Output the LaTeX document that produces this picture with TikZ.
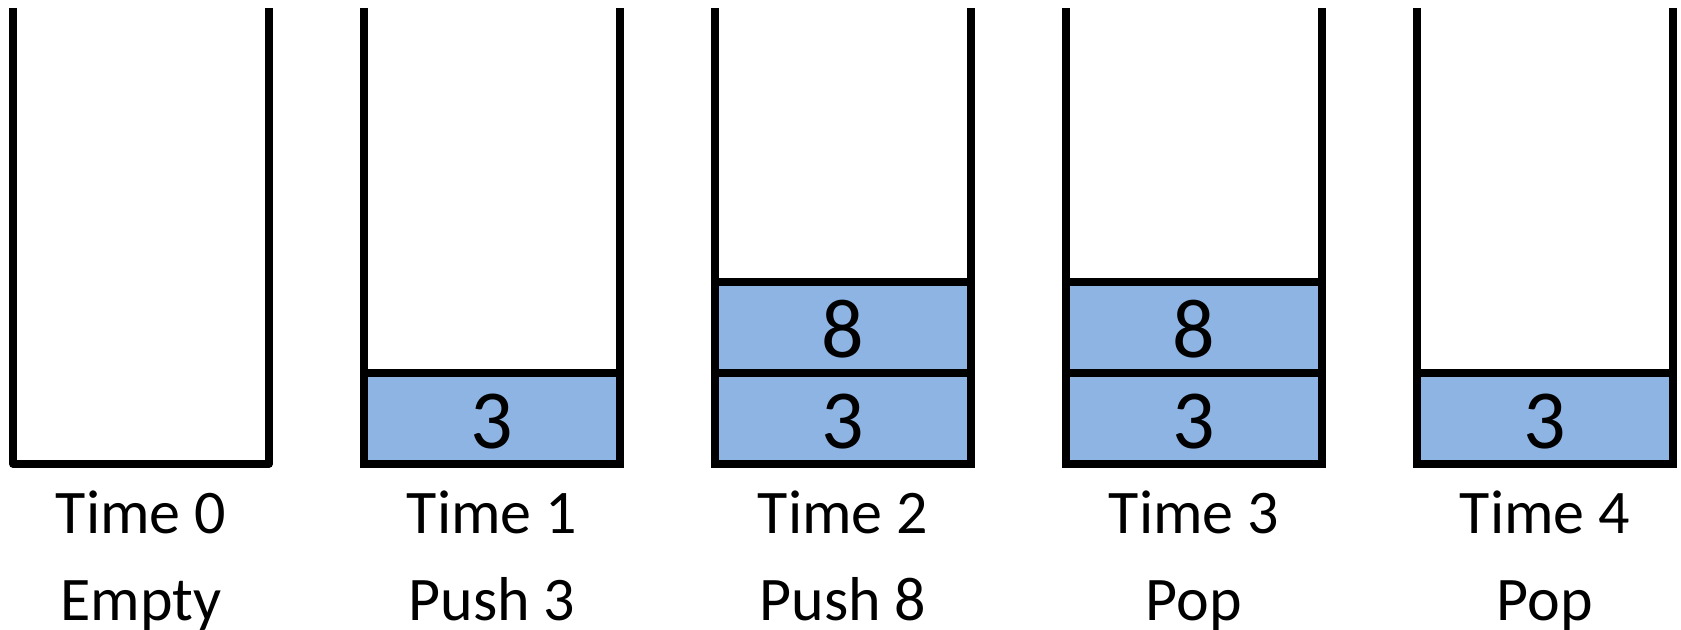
\documentclass[tikz,border=0pt]{standalone}
\usepackage{fontspec}
\setmainfont{Carlito}
\definecolor{blockblue}{HTML}{8EB4E3}
\begin{document}
\begin{tikzpicture}[x=0.5pt,y=-0.5pt,
  wall/.style={line width=3.75pt, line join=round},
  blk/.style={draw, line width=3.75pt, fill=blockblue, minimum width=128pt,
    minimum height=45.5pt, inner sep=0pt},
  num/.style={font=\fontsize{42}{42}\selectfont, anchor=base, inner sep=0pt},
  lbl/.style={font=\fontsize{31}{31}\selectfont, anchor=base, inner sep=0pt}]
\useasboundingbox (0,0) rectangle (1681,629);
% stack outlines
\foreach \i in {0,...,4}{
  \pgfmathsetmacro{\xl}{13+351*\i}
  \pgfmathsetmacro{\xr}{269+351*\i}
  \coordinate (tl\i) at (\xl,8);
  \coordinate (bl\i) at (\xl,464);
  \coordinate (br\i) at (\xr,464);
  \coordinate (tr\i) at (\xr,8);
}
% blocks
\node[blk] (s1a) at (492,418.5) {};
\node[blk] (s2a) at (843,418.5) {};
\node[blk] (s2b) at (843,327.5) {};
\node[blk] (s3a) at (1194,418.5) {};
\node[blk] (s3b) at (1194,327.5) {};
\node[blk] (s4a) at (1545,418.5) {};
\node[num] (n1a) at (492,448) {3};
\node[num] (n2a) at (843,448) {3};
\node[num] (n2b) at (843,357) {8};
\node[num] (n3a) at (1194,448) {3};
\node[num] (n3b) at (1194,357) {8};
\node[num] (n4a) at (1545,448) {3};
\foreach \i in {0,...,4}{
  \draw[wall] (tl\i) -- (bl\i) -- (br\i) -- (tr\i);
}
% labels
\node[lbl] (t0) at (141,533) {Time 0};
\node[lbl] (o0) at (141,620) {Empty};
\node[lbl] (t1) at (492,533) {Time 1};
\node[lbl] (o1) at (492,620) {Push 3};
\node[lbl] (t2) at (843,533) {Time 2};
\node[lbl] (o2) at (843,620) {Push 8};
\node[lbl] (t3) at (1194,533) {Time 3};
\node[lbl] (o3) at (1194,620) {Pop};
\node[lbl] (t4) at (1545,533) {Time 4};
\node[lbl] (o4) at (1545,620) {Pop};
\end{tikzpicture}
\end{document}
